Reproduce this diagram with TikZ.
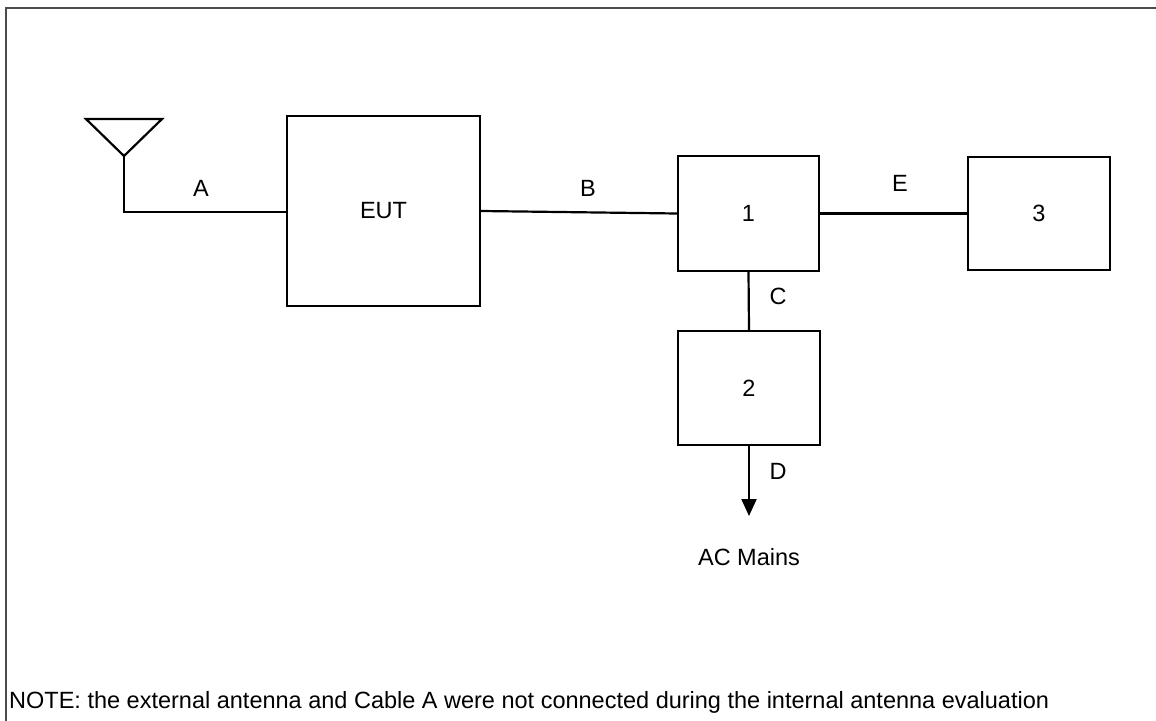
\documentclass[tikz,border=0pt]{standalone}
\usepackage{fontspec}
\setmainfont{Liberation Sans}
\usetikzlibrary{arrows.meta}
\begin{document}
\begin{tikzpicture}[x=1pt,y=-1pt,
  every node/.style={font=\fontsize{23.5}{28}\selectfont, inner sep=0pt},
  blk/.style={draw, line width=2.2pt, inner sep=0pt},
  wire/.style={line width=2.2pt},
  lbl/.style={anchor=center}]
\useasboundingbox (0,0) rectangle (1156,720);
\clip (0,0) rectangle (1156,720);
% frame
\draw[line width=2.2pt, black!70] (6,730) -- (6,8) -- (1170,8);
% boxes
\node[blk, minimum width=193pt, minimum height=190pt] (eut) at (383.5,211) {EUT};
\node[blk, minimum width=141pt, minimum height=115pt] (b1) at (748.5,213.5) {1};
\node[blk, minimum width=142pt, minimum height=113pt] (b3) at (1039,213.5) {3};
\node[blk, minimum width=142pt, minimum height=114pt] (b2) at (749,388) {2};
% antenna
\coordinate (antL) at (86,119);
\coordinate (antR) at (162,119);
\coordinate (antP) at (124,156);
\coordinate (antB) at (124,212);
\draw[wire, line join=miter] (antL) -- (antR) -- (antP) -- cycle;
\draw[wire] (antP) -- (antB) -- (eut.west |- antB);
% connectors
\draw[wire] (eut.east) -- (b1.west);
\draw[wire] (b1.east) -- (b3.west);
\draw[wire] (b1.south) -- (b2.north);
\coordinate (acTip) at (749,516);
\draw[wire, -{Triangle[width=15pt,length=17pt]}] (b2.south) -- (acTip);
% labels
\node[lbl] (lA) at (201,188) {A};
\node[lbl] (lB) at (588,188) {B};
\node[lbl] (lE) at (900,183) {E};
\node[lbl] (lC) at (778,296) {C};
\node[lbl] (lD) at (778,471) {D};
\node[lbl] (ac) at (749,557) {AC Mains};
\node[anchor=west] (note) at (9,702) {NOTE: the external antenna and Cable A were not connected during the internal antenna evaluation};
\end{tikzpicture}
\end{document}
